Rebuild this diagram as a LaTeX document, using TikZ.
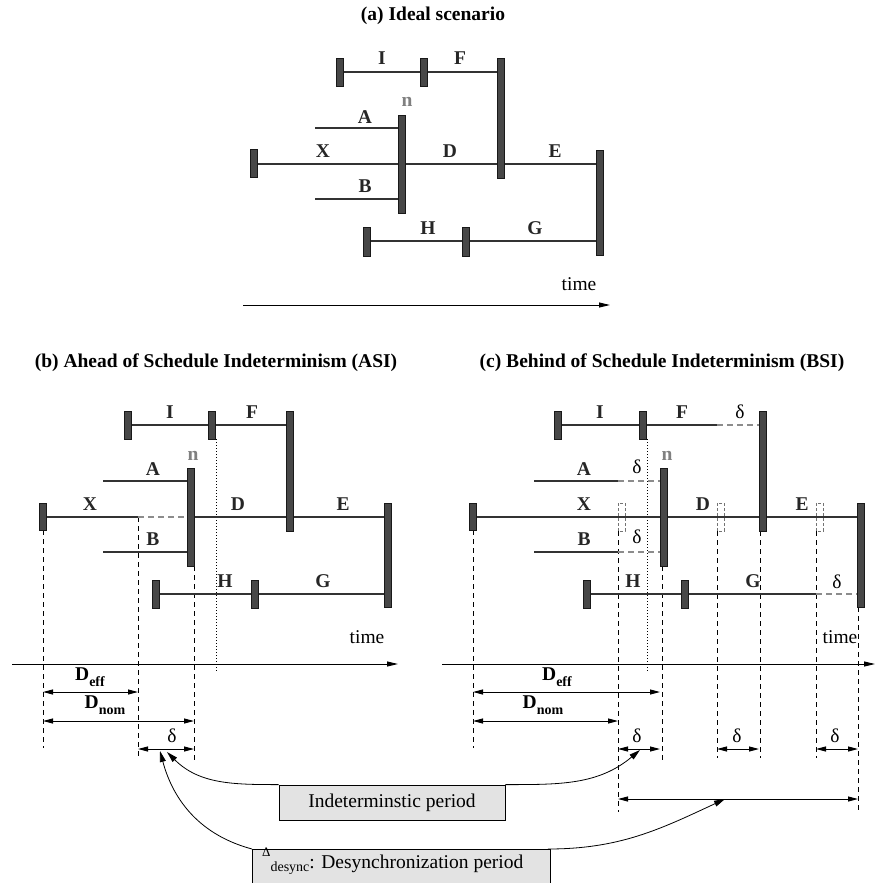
\documentclass[tikz,border=0pt]{standalone}
\usepackage{fontspec}
\setmainfont{Liberation Serif}
\usetikzlibrary{arrows.meta}
\tikzset{
 seg/.style={line width=2pt, draw=black!80},
 gdash/.style={line width=2pt, draw=black!45, dash pattern=on 6pt off 4pt},
 vdash/.style={line width=0.8pt, dash pattern=on 5pt off 4pt},
 vdot/.style={line width=0.8pt, dash pattern=on 1pt off 2pt},
 gbrk/.style={line width=0.7pt, draw=black!55, dash pattern=on 3pt off 2pt},
 barst/.style={fill=black!72, draw=black!90, line width=0.5pt},
 lbl/.style={font=\bfseries\fontsize{19.5}{20}\selectfont, inner sep=0pt, anchor=base, text=black!85},
 nlbl/.style={lbl, text=black!50},
 rlbl/.style={font=\fontsize{19.5}{20}\selectfont, inner sep=0pt, anchor=base},
 ttl/.style={font=\bfseries\fontsize{19.5}{20}\selectfont, inner sep=0pt, anchor=base},
 dim/.style={line width=1pt, {Triangle[length=10pt,width=5pt]}-{Triangle[length=10pt,width=5pt]}},
 tarrow/.style={line width=1pt, -{Triangle[length=11pt,width=5pt]}},
 carrow/.style={line width=0.8pt, -{Triangle[length=11pt,width=6pt]}},
 gbox/.style={draw, line width=0.8pt, fill=black!11, inner sep=0pt},
}
\newcommand\tmbar[3]{\path[barst] (#1-3.5,#2) rectangle (#1+3.5,#3);}
\newcommand\subtx[1]{\raisebox{-6pt}{\fontsize{14}{14}\selectfont #1}}
\begin{document}
\begin{tikzpicture}[x=1pt,y=-1pt]
\useasboundingbox (0,0) rectangle (875,883);
% ================= (a) =================
\node[ttl] (ta) at (433,21) {(a) Ideal scenario};
\draw[seg] (340,72) -- (424,72);
\draw[seg] (424,72) -- (501,72);
\draw[seg] (315,128) -- (402,128);
\draw[seg] (254,164) -- (402,164);
\draw[seg] (402,164) -- (501,164);
\draw[seg] (501,164) -- (600,164);
\draw[seg] (315,199) -- (402,199);
\draw[seg] (367,241) -- (466,241);
\draw[seg] (466,241) -- (600,241);
\tmbar{340}{58}{86}\tmbar{424}{58}{86}\tmbar{501}{58}{178}
\tmbar{402}{115}{213}\tmbar{254}{149}{177}\tmbar{600}{150}{255}
\tmbar{367}{227}{256}\tmbar{466}{227}{256}
\node[lbl] (aI) at (382,65) {I};
\node[lbl] (aF) at (460,65) {F};
\node[nlbl] (an) at (407,106) {n};
\node[lbl] (aA) at (365,123) {A};
\node[lbl] (aX) at (323,157) {X};
\node[lbl] (aD) at (450,157) {D};
\node[lbl] (aE) at (555,157) {E};
\node[lbl] (aB) at (365,192) {B};
\node[lbl] (aH) at (428,234) {H};
\node[lbl] (aG) at (535,234) {G};
\node[rlbl] (atime) at (579,290) {time};
\coordinate (a0) at (243,305); \coordinate (a1) at (610,305);
\draw[tarrow] (a0) -- (a1);
% ================= (b) =================
\node[ttl] (tb) at (216,367) {(b) Ahead of Schedule Indeterminism (ASI)};
\draw[vdot] (216,439) -- (216,672);
\draw[vdash] (43,530) -- (43,748);
\draw[vdash] (138,517) -- (138,758);
\draw[vdash] (194,566) -- (194,763);
\draw[seg] (128,425) -- (212,425);
\draw[seg] (212,425) -- (290,425);
\draw[seg] (103,481) -- (191,481);
\draw[seg] (43,517) -- (138,517);
\draw[gdash] (138,517) -- (188,517);
\draw[seg] (191,517) -- (290,517);
\draw[seg] (290,517) -- (388,517);
\draw[seg] (103,552) -- (191,552);
\draw[seg] (156,594) -- (255,594);
\draw[seg] (255,594) -- (388,594);
\tmbar{128}{411}{439}\tmbar{212}{411}{439}\tmbar{290}{411}{531}
\tmbar{191}{468}{566}\tmbar{43}{503}{530}\tmbar{388}{503}{607}
\tmbar{156}{580}{608}\tmbar{255}{580}{608}
\node[lbl] (bI) at (170,418) {I};
\node[lbl] (bF) at (252,418) {F};
\node[nlbl] (bn) at (193,460) {n};
\node[lbl] (bA) at (153,475) {A};
\node[lbl] (bX) at (90,510) {X};
\node[lbl] (bD) at (238,510) {D};
\node[lbl] (bE) at (343,510) {E};
\node[lbl] (bB) at (153,545) {B};
\node[lbl] (bH) at (225,587) {H};
\node[lbl] (bG) at (323,587) {G};
\node[rlbl] (btime) at (367,643) {time};
\coordinate (b0) at (12,664); \coordinate (b1) at (398,664);
\draw[tarrow] (b0) -- (b1);
\node[lbl,text=black] (bDeff) at (90,680) {D\subtx{eff}};
\draw[dim] (43,692) -- (138,692);
\node[lbl,text=black] (bDnom) at (105,708) {D\subtx{nom}};
\draw[dim] (43,721) -- (194,721);
\node[rlbl] (bdelta) at (172,742) {δ};
\draw[dim] (138,749) -- (194,749);
% ================= (c) =================
\node[ttl] (tc) at (662,367) {(c) Behind of Schedule Indeterminism (BSI)};
\draw[vdot] (647,439) -- (647,672);
\draw[vdash] (473,530) -- (473,748);
\draw[vdash] (618,531) -- (618,812);
\draw[vdash] (662,566) -- (662,763);
\draw[vdash] (717,531) -- (717,758);
\draw[vdash] (760,531) -- (760,758);
\draw[vdash] (816,531) -- (816,758);
\draw[vdash] (858,607) -- (858,812);
\draw[seg] (558,425) -- (643,425);
\draw[seg] (643,425) -- (717,425);
\draw[gdash] (717,425) -- (760,425);
\draw[seg] (534,481) -- (618,481);
\draw[gdash] (618,481) -- (661,481);
\draw[seg] (473,517) -- (664,517);
\draw[seg] (664,517) -- (763,517);
\draw[seg] (763,517) -- (861,517);
\draw[seg] (534,552) -- (618,552);
\draw[gdash] (618,552) -- (661,552);
\draw[seg] (587,594) -- (685,594);
\draw[seg] (685,594) -- (816,594);
\draw[gdash] (816,594) -- (858,594);
\draw[gbrk] (618,503) rectangle (625,531);
\draw[gbrk] (717,503) rectangle (724,531);
\draw[gbrk] (816,503) rectangle (823,531);
\tmbar{558}{411}{439}\tmbar{643}{411}{439}\tmbar{763}{411}{531}
\tmbar{664}{468}{566}\tmbar{473}{503}{530}\tmbar{861}{503}{607}
\tmbar{587}{580}{608}\tmbar{685}{580}{608}
\node[lbl] (cI) at (600,418) {I};
\node[lbl] (cF) at (682,418) {F};
\node[rlbl] (cdF) at (740,418) {δ};
\node[nlbl] (cn) at (667,460) {n};
\node[lbl] (cA) at (584,475) {A};
\node[rlbl] (cdA) at (637,473) {δ};
\node[lbl] (cX) at (584,510) {X};
\node[lbl] (cD) at (703,510) {D};
\node[lbl] (cE) at (802,510) {E};
\node[lbl] (cB) at (584,545) {B};
\node[rlbl] (cdB) at (637,543) {δ};
\node[lbl] (cH) at (633,587) {H};
\node[lbl] (cG) at (753,587) {G};
\node[rlbl] (cdG) at (837,588) {δ};
\node[rlbl] (ctime) at (840,643) {time};
\coordinate (c0) at (442,664); \coordinate (c1) at (875,664);
\draw[tarrow] (c0) -- (c1);
\node[lbl,text=black] (cDeff) at (557,680) {D\subtx{eff}};
\draw[dim] (473,692) -- (660,692);
\node[lbl,text=black] (cDnom) at (543,708) {D\subtx{nom}};
\draw[dim] (473,721) -- (618,721);
\node[rlbl] (cd1) at (637,742) {δ};
\draw[dim] (618,749) -- (660,749);
\node[rlbl] (cd2) at (737,742) {δ};
\draw[dim] (717,749) -- (759,749);
\node[rlbl] (cd3) at (835,742) {δ};
\draw[dim] (816,749) -- (858,749);
\coordinate (dl) at (618,799); \coordinate (dr) at (858,799);
\draw[dim] (dl) -- (dr);
% ================= boxes and curved arrows =================
\node[gbox, minimum width=226pt, minimum height=35pt] (ind) at (392,802.5) {};
\node[rlbl] (indt) at (392,807) {Indeterminstic period};
\node[gbox, minimum width=298pt, minimum height=50pt, anchor=north west] (des) at (252,849) {};
\node[rlbl, anchor=base west] (dest) at (262,868) {\raisebox{12pt}{\fontsize{13}{13}\selectfont Δ}\raisebox{-3pt}{\fontsize{14}{14}\selectfont desync}: Desynchronization period};
\coordinate (tipb) at (167,752);
\coordinate (tipc) at (640,750);
\coordinate (tipd) at (160,751);
\coordinate (tipl) at (725,799);
\draw[carrow] (ind.north west) to[out=180, in=-45] (tipb);
\draw[carrow] (ind.north east) to[out=0, in=-140] (tipc);
\draw[carrow] (des.north west) to[out=165, in=-75] (tipd);
\draw[carrow] ([xshift=-3pt]des.north east) to[out=0, in=-155] (tipl);
\end{tikzpicture}
\end{document}
